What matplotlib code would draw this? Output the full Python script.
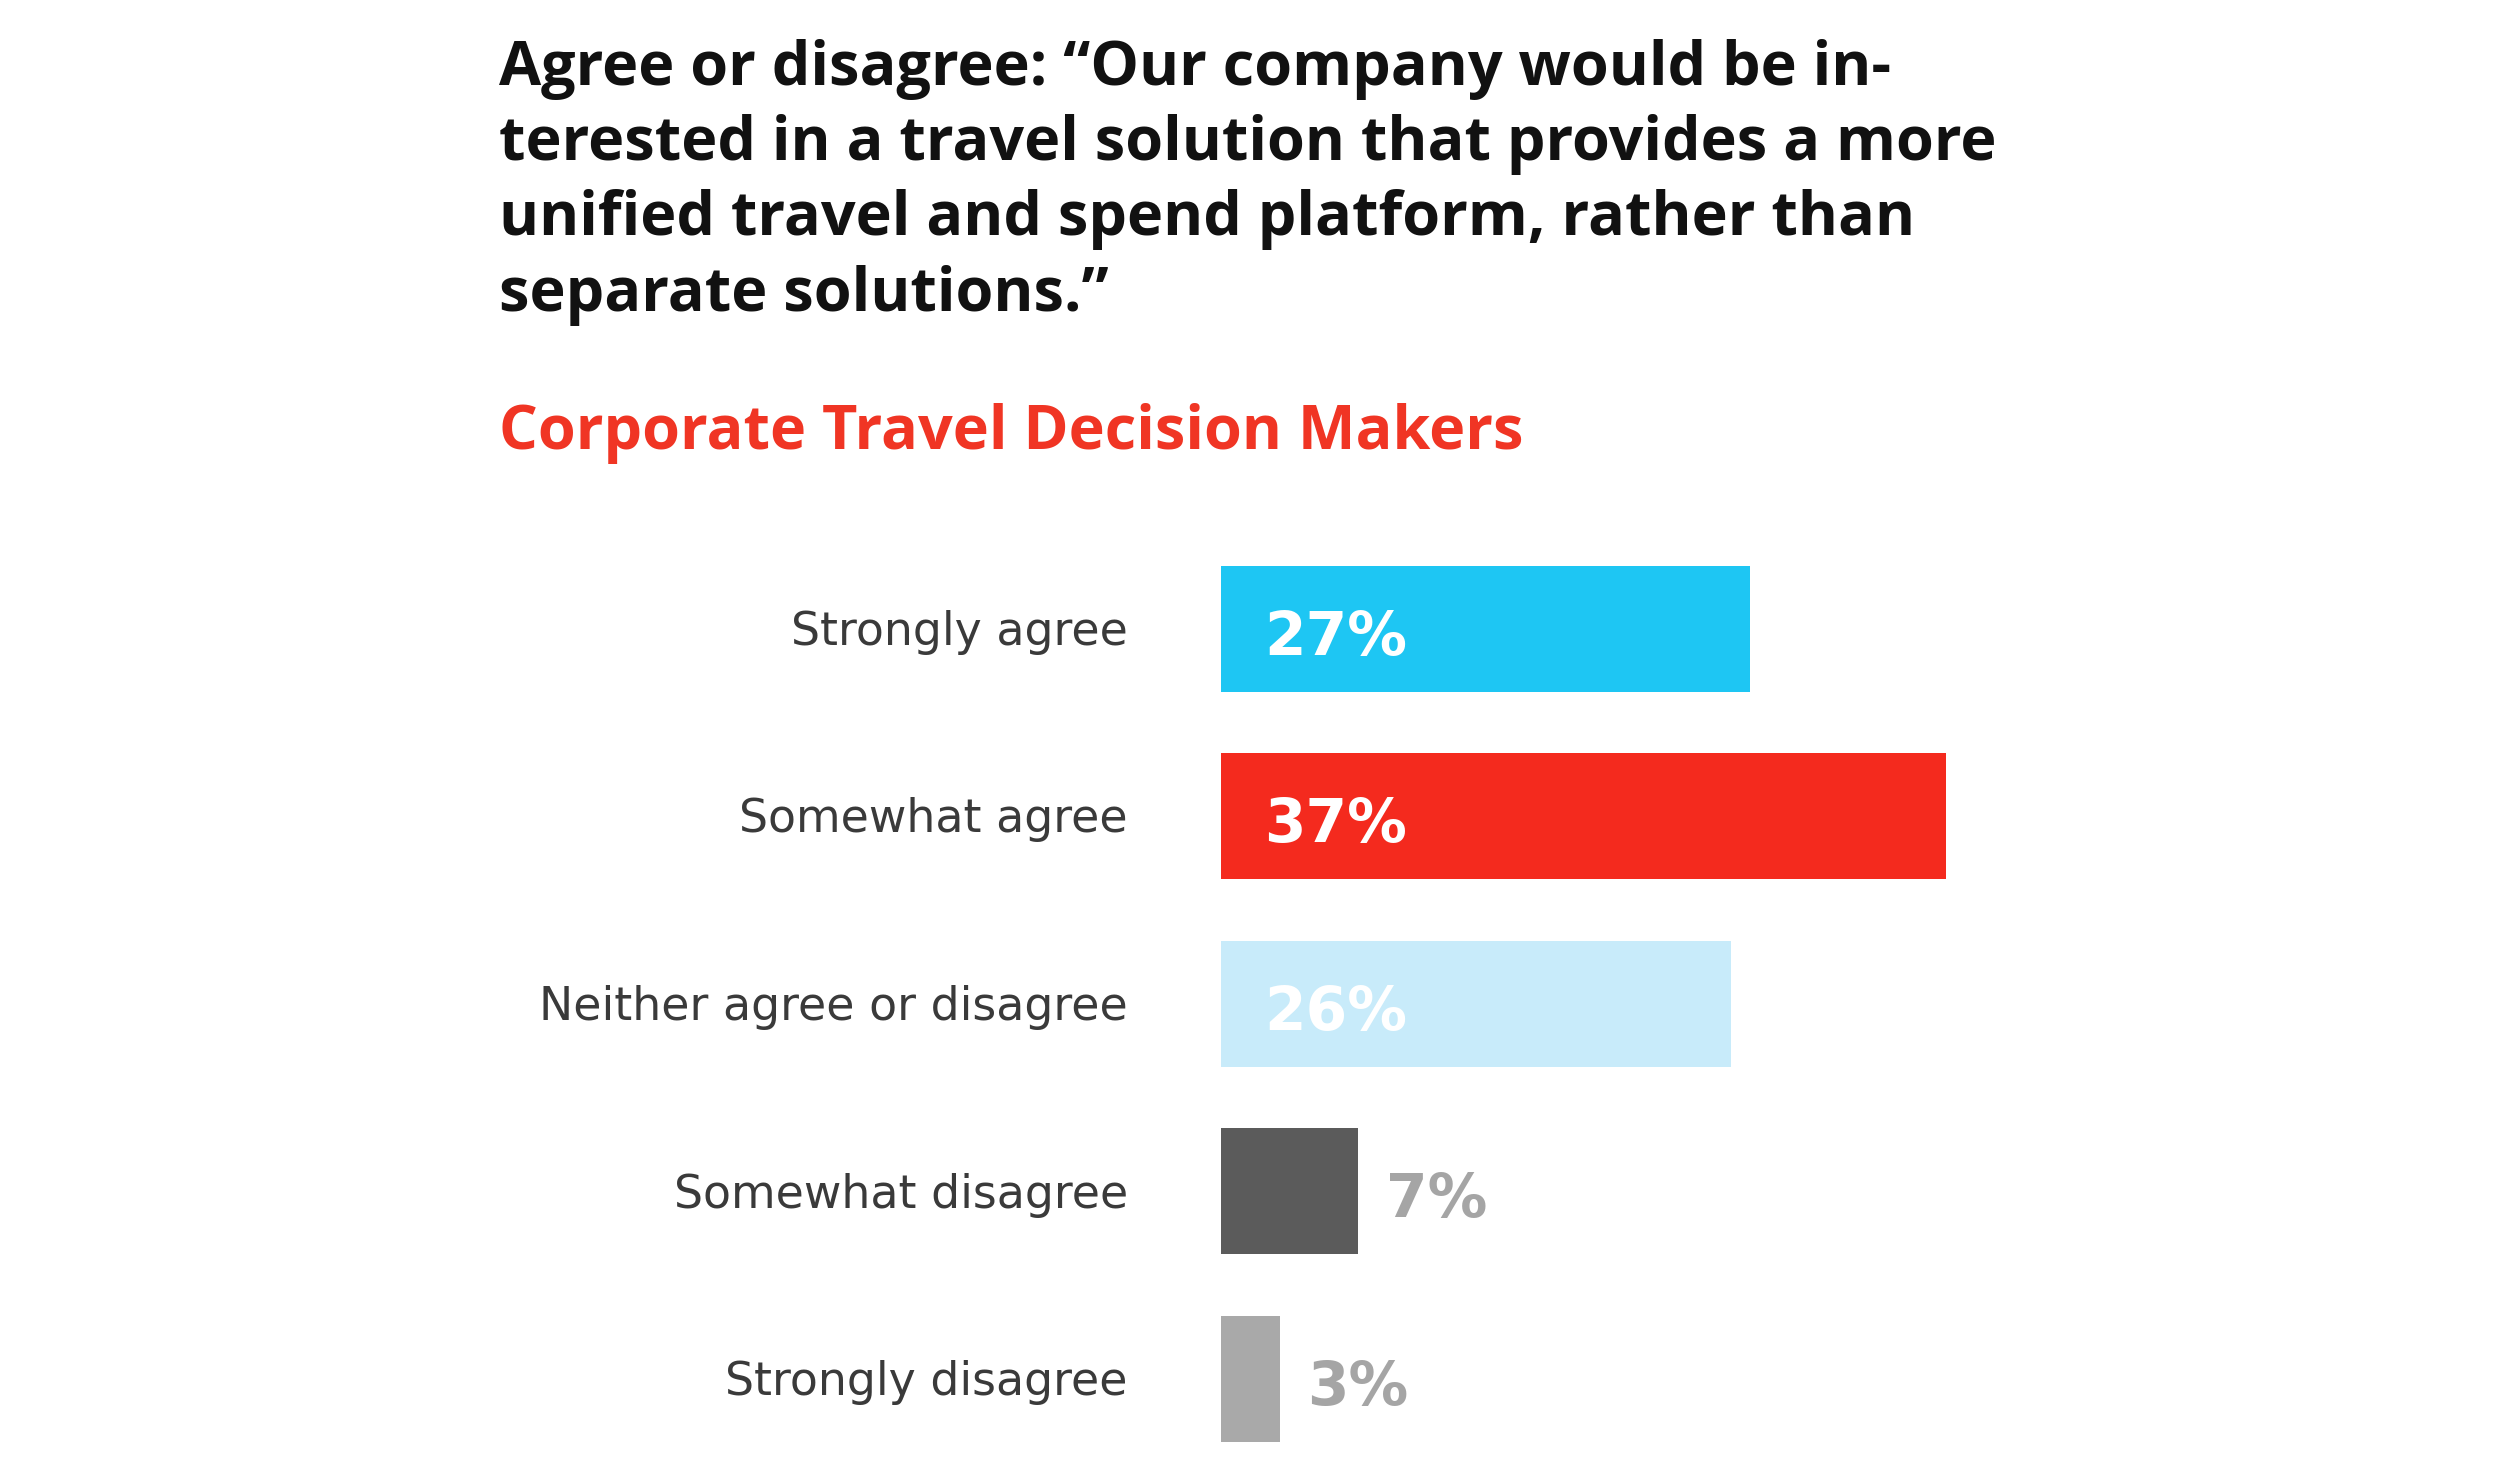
import matplotlib
matplotlib.use("Agg")
import matplotlib.pyplot as plt

categories = ["Strongly agree", "Somewhat agree", "Neither agree or disagree",
              "Somewhat disagree", "Strongly disagree"]
values = [27, 37, 26, 7, 3]
bar_colors = ["#1EC6F3", "#F42A1E", "#C8EBFA", "#5B5B5B", "#A9A9A9"]
label_inside = [True, True, True, False, False]

title_lines = ["Agree or disagree: \u201cOur company would be in-",
               "terested in a travel solution that provides a more",
               "unified travel and spend platform, rather than",
               "separate solutions.\u201d"]
subtitle = "Corporate Travel Decision Makers"

W, H = 2499, 1480
fig = plt.figure(figsize=(W / 100, H / 100), dpi=100)
fig.patch.set_facecolor("white")

title_font = "Open Sans"
for i, line in enumerate(title_lines):
    fig.text(499 / W, 1 - (69 + i * 75.5) / H, line, fontsize=44, fontweight="bold",
             family=title_font, color="#111111", ha="left", va="center")
fig.text(499 / W, 1 - 433 / H, subtitle, fontsize=44, fontweight="bold",
         family=title_font, color="#F03524", ha="left", va="center")

ax_left = 1221 / W
px_per_unit = 19.6
xmax = 45
ax_w = xmax * px_per_unit / W
ax_top = 535 / H
ax_h = 937.5 / H
ax = fig.add_axes([ax_left, 1 - ax_top - ax_h, ax_w, ax_h])
ypos = list(range(len(categories)))
ax.barh(ypos, values, height=0.67, color=bar_colors, zorder=2)
ax.set_xlim(0, xmax)
ax.set_ylim(len(categories) - 0.5, -0.5)
ax.axis("off")

pct_font = "DejaVu Sans"
for y, cat, v, inside in zip(ypos, categories, values, label_inside):
    ax.text(-4.75, y + 0.02, cat, ha="right", va="center", fontsize=33, family="DejaVu Sans",
            fontweight="normal", color="#3a3a3a")
    if inside:
        ax.text(2.2, y + 0.05, f"{v}%", ha="left", va="center", fontsize=43,
                fontweight="bold", family=pct_font, color="white")
    else:
        ax.text(v + 1.4, y + 0.05, f"{v}%", ha="left", va="center", fontsize=43,
                fontweight="bold", family=pct_font, color="#A5A5A5")

fig.savefig("out.png", dpi=100, facecolor="white")
